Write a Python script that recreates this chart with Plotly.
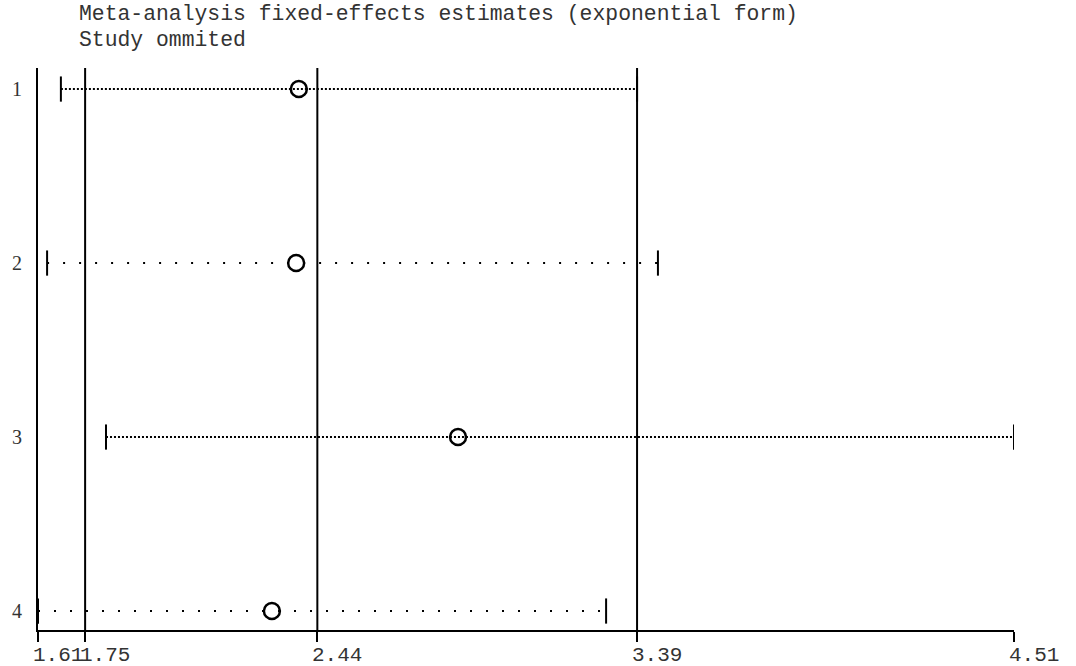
import plotly.graph_objects as go

# Data
studies = [1, 2, 3, 4]
estimate = [2.385, 2.377, 2.858, 2.305]
lower = [1.678, 1.637, 1.812, 1.61]
upper = [3.39, 3.452, 4.51, 3.298]
ref_lines = [1.75, 2.44, 3.39]
tick_vals = [1.61, 1.75, 2.44, 3.39, 4.51]
tick_text = ["1.61", "1.75", "2.44", "3.39", "4.51"]
title_lines = ["Meta-analysis fixed-effects estimates (exponential form)", "Study ommited"]

FONT = "Liberation Mono"
dashes = ["2px,2px", "2px,14px", "2px,2px", "2px,14px"]

fig = go.Figure()

for s, lo, hi, d in zip(studies, lower, upper, dashes):
    fig.add_trace(go.Scatter(x=[lo, hi], y=[s, s], mode="lines",
                             line=dict(color="black", width=2, dash=d),
                             showlegend=False, hoverinfo="skip"))

# CI caps
fig.add_trace(go.Scatter(x=lower + upper, y=studies + studies, mode="markers",
                         marker=dict(symbol="line-ns", size=18,
                                     line=dict(color="black", width=2)),
                         showlegend=False, hoverinfo="skip"))
# point estimates
fig.add_trace(go.Scatter(x=estimate, y=studies, mode="markers",
                         marker=dict(symbol="circle-open", size=16, color="black",
                                     line=dict(color="black", width=2.5)),
                         showlegend=False))

for v in ref_lines:
    fig.add_shape(type="line", xref="x", yref="paper", x0=v, x1=v, y0=0, y1=1,
                  line=dict(color="black", width=2))

for v, t in zip(tick_vals, tick_text):
    fig.add_annotation(x=v, y=0, xref="x", yref="paper", text=t, showarrow=False,
                       xanchor="left", yanchor="top", xshift=-7, yshift=-12,
                       font=dict(family=FONT, size=21, color="#333"))

fig.add_annotation(x=0.04, y=1.096, xref="paper", yref="paper", text=title_lines[0],
                   showarrow=False, xanchor="left", yanchor="middle",
                   font=dict(family=FONT, size=21.4, color="#333"))
fig.add_annotation(x=0.04, y=1.05, xref="paper", yref="paper", text=title_lines[1],
                   showarrow=False, xanchor="left", yanchor="middle",
                   font=dict(family=FONT, size=21.4, color="#333"))

fig.update_layout(
    width=1076, height=666,
    margin=dict(l=38, r=62, t=68, b=36, autoexpand=False),
    plot_bgcolor="white", paper_bgcolor="white",
    xaxis=dict(range=[1.61, 4.51], showgrid=False, zeroline=False, automargin=False,
               showline=True, linecolor="black", linewidth=2,
               ticks="outside", ticklen=10, tickwidth=2, tickcolor="black",
               tickvals=tick_vals, showticklabels=False),
    yaxis=dict(range=[4.109, 0.879], showgrid=False, zeroline=False, automargin=False,
               showline=True, linecolor="black", linewidth=2,
               tickvals=studies, ticktext=[str(s) for s in studies], ticks="",
               ticklabelstandoff=10,
               tickfont=dict(family="Liberation Serif", size=20, color="#333")),
)

fig.write_html("out.html", config={"displayModeBar": False},
               post_script="document.body.style.margin='0';")
